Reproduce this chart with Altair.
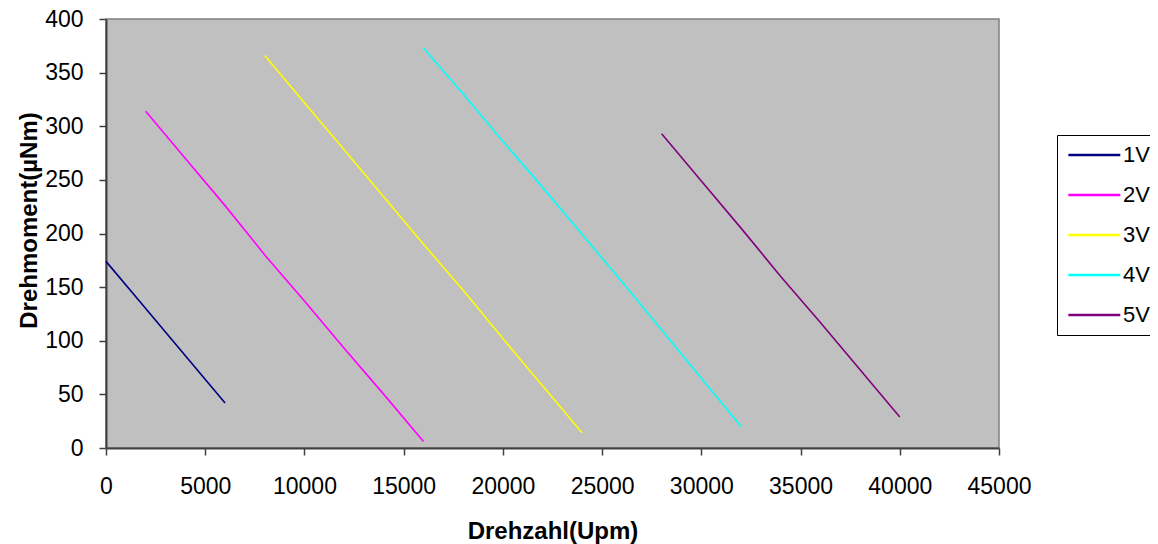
import altair as alt
import pandas as pd

series = ["1V", "2V", "3V", "4V", "5V"]
colors = ["#000080", "#FF00FF", "#FFFF00", "#00FFFF", "#800080"]

rpm_1v = [0, 2000, 4000, 6000]
tq_1v = [174, 130, 86, 42]
rpm_2v = [2000, 4000, 6000, 8000, 10000, 12000, 14000, 16000]
tq_2v = [314, 270, 226, 180, 137, 93, 50, 6]
rpm_3v = [8000, 10000, 12000, 14000, 16000, 18000, 20000, 22000, 24000]
tq_3v = [366, 322, 278, 234, 190, 147, 102, 58, 14]
rpm_4v = [16000, 18000, 20000, 22000, 24000, 26000, 28000, 30000, 32000]
tq_4v = [373, 330, 286, 243, 199, 155, 110, 65, 20]
rpm_5v = [28000, 30000, 32000, 34000, 36000, 38000, 40000]
tq_5v = [293, 249, 205, 160, 117, 73, 29]

x_ticks = [0, 5000, 10000, 15000, 20000, 25000, 30000, 35000, 40000, 45000]
y_ticks = [0, 50, 100, 150, 200, 250, 300, 350, 400]

rows = []
for name, xs, ys in zip(series, [rpm_1v, rpm_2v, rpm_3v, rpm_4v, rpm_5v],
                        [tq_1v, tq_2v, tq_3v, tq_4v, tq_5v]):
    for i, (xv, yv) in enumerate(zip(xs, ys)):
        rows.append({"Serie": name, "Drehzahl": xv, "Drehmoment": yv, "i": i})
df = pd.DataFrame(rows)

FONT = "Liberation Sans"

chart = alt.Chart(df).mark_line(strokeWidth=1.6).encode(
    x=alt.X("Drehzahl:Q",
            scale=alt.Scale(domain=[0, 45000], nice=False, zero=False),
            axis=alt.Axis(values=x_ticks, title="Drehzahl(Upm)", grid=False, format="d",
                          tickSize=7, labelPadding=20, labelFontSize=23,
                          labelFont=FONT, labelColor="#000000",
                          titleFont=FONT, titleFontSize=24, titleFontWeight="bold",
                          titleColor="#000000", titleY=90, titleBaseline="alphabetic",
                          domainColor="#404040", domainWidth=2, tickColor="#404040",
                          tickWidth=1.5, labelFlush=False, labelOverlap=False)),
    y=alt.Y("Drehmoment:Q",
            scale=alt.Scale(domain=[0, 400], nice=False),
            axis=alt.Axis(values=y_ticks, title="Drehmoment(µNm)", grid=False, format="d",
                          tickSize=7, labelPadding=16, labelFontSize=23,
                          labelFont=FONT, labelColor="#000000",
                          titleFont=FONT, titleFontSize=24, titleFontWeight="bold",
                          titleColor="#000000", titleX=-77, titleY=201,
                          titleAngle=270, titleAlign="center", titleBaseline="middle",
                          domainColor="#404040", domainWidth=2, tickColor="#404040",
                          tickWidth=1.5, labelOverlap=False)),
    color=alt.Color("Serie:N",
                    scale=alt.Scale(domain=series, range=colors),
                    legend=alt.Legend(title=None, orient="none", legendX=951, legendY=116,
                                      symbolType="M-1,0L5,0", symbolSize=300,
                                      symbolStrokeWidth=2.5, labelFontSize=22,
                                      labelFont=FONT, labelColor="#000000",
                                      labelOffset=35, strokeColor="#000000",
                                      fillColor="#FFFFFF", padding=9, rowPadding=18)),
    order="i:Q",
).properties(
    width=893,
    height=429,
    background="#FFFFFF",
    autosize=alt.AutoSizeParams(type="none"),
    padding={"left": 98, "top": 11, "right": 151, "bottom": 96},
).configure_view(
    fill="#C0C0C0", stroke="#808080", strokeWidth=1.5
)

chart.save("out.html", embed_options={"renderer": "svg", "actions": False})
